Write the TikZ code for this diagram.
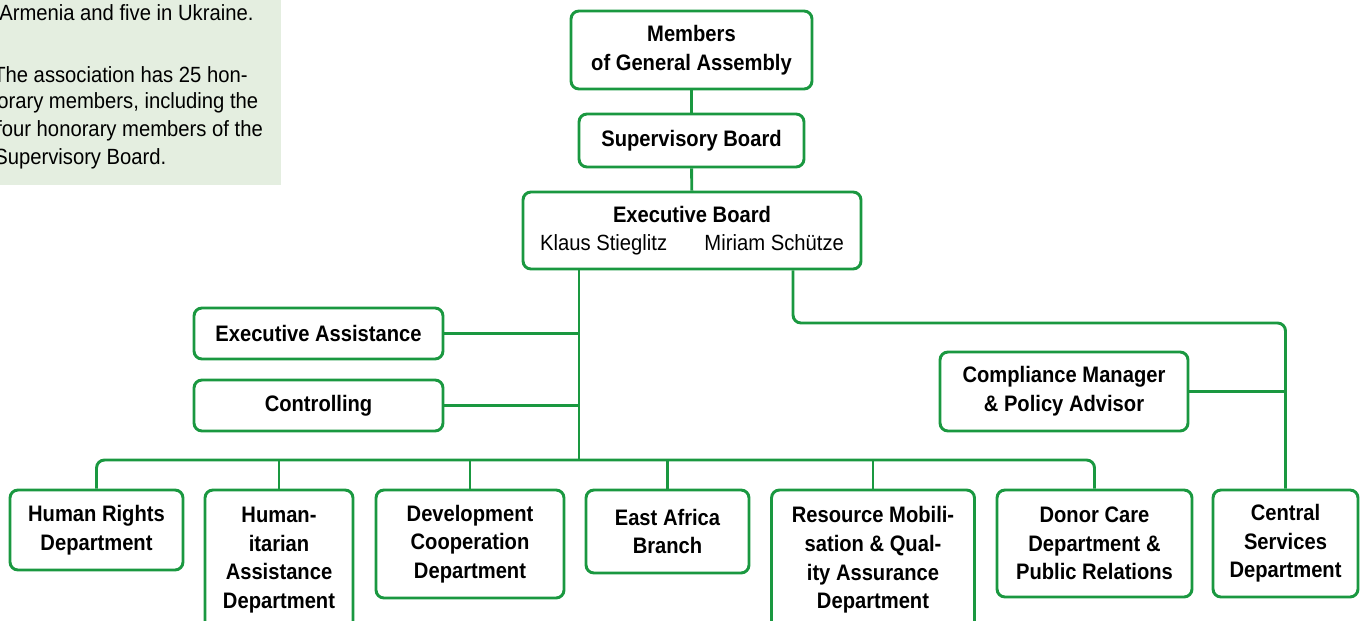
\documentclass[tikz,border=0pt]{standalone}
\usepackage{fontspec}
\setmainfont{Liberation Sans}[FakeStretch=0.92]
\newfontfamily\bfont{Liberation Sans Bold}[FakeStretch=0.9]
\definecolor{orggreen}{RGB}{26,152,64}
\definecolor{panelgreen}{RGB}{228,238,224}
\begin{document}
\begin{tikzpicture}[x=0.75pt,y=-0.75pt,
  box/.style={draw=orggreen,line width=2.2pt,rounded corners=6pt,fill=white,
    inner sep=0pt,align=center,font=\bfont\fontsize{16.8}{21.5}\selectfont},
  wh/.style 2 args={minimum width=#1*0.75pt,minimum height=#2*0.75pt},
  link/.style={draw=orggreen,line width=2.2pt,rounded corners=6pt},
  panel/.style={font=\fontsize{16.5}{21}\selectfont,anchor=west,inner sep=0pt}]
\useasboundingbox (0,0) rectangle (1361,621);
\clip (0,0) rectangle (1361,621);
% side panel
\fill[panelgreen] (-5,-5) rectangle (281,185);
\node[panel] (p1) at (-1,13) {Armenia and five in Ukraine.};
\node[panel] (p2) at (-7,75) {The association has 25 hon-};
\node[panel] (p3) at (-3,103) {orary members, including the};
\node[panel] (p4) at (-4,131) {four honorary members of the};
\node[panel] (p5) at (-6,159) {Supervisory Board.};
% coordinates
\coordinate (trunk) at (579,460);
\coordinate (rx) at (793,323);
% nodes
\node[box,wh={241}{78}] (mem) at (691.5,50) {Members\\of General Assembly};
\node[box,wh={225}{53}] (sup) at (691.5,140.5) {Supervisory Board};
\node[box,wh={338}{77}] (exec) at (692,230.5)
  {Executive Board\\{\normalfont\fontsize{16.5}{21.5}\selectfont Klaus Stieglitz\hspace{28pt}Miriam Schütze}};
\node[box,wh={249}{51}] (ea) at (318.5,333.5) {Executive Assistance};
\node[box,wh={249}{51}] (ctl) at (318.5,405.5) {Controlling};
\node[box,wh={248}{79}] (cmp) at (1064,391.5) {Compliance Manager\\\& Policy Advisor};
\node[box,wh={173}{80}] (hr) at (96.5,530) {Human Rights\\Department};
\node[box,wh={148}{140}] (hum) at (279,560) {Human-\\itarian\\Assistance\\Department};
\node[box,wh={188}{108}] (dev) at (470,544) {Development\\Cooperation\\Department};
\node[box,wh={163}{83}] (eaf) at (667.5,531.5) {East Africa\\Branch};
\node[box,wh={203}{140}] (res) at (873,560) {Resource Mobili-\\sation \& Qual-\\ity Assurance\\Department};
\node[box,wh={195}{107}] (don) at (1094.5,543.5) {Donor Care\\Department \&\\Public Relations};
\node[box,wh={145}{107}] (cs) at (1285.5,543.5) {Central\\Services\\Department};
% connectors
\draw[link] (mem) -- (sup);
\draw[link] (sup) -- (exec);
\draw[link] (exec.south -| trunk) -- (trunk);
\draw[link] (ea.east) -- (ea.east -| trunk);
\draw[link] (ctl.east) -- (ctl.east -| trunk);
\draw[link] (hr.north) |- (trunk) -| (don.north);
\draw[link] (hum.north) -- (hum.north |- trunk);
\draw[link] (dev.north) -- (dev.north |- trunk);
\draw[link] (eaf.north) -- (eaf.north |- trunk);
\draw[link] (res.north) -- (res.north |- trunk);
\draw[link] (exec.south -| rx) -- (rx) -| (cs.north);
\draw[link] (cmp.east) -- (cmp.east -| cs.north);
\end{tikzpicture}
\end{document}
